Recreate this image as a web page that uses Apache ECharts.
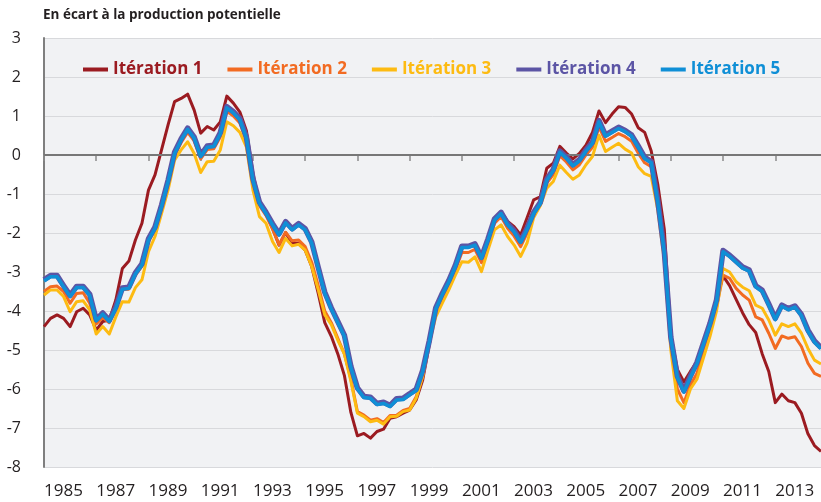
<!DOCTYPE html>
<html>
<head>
<meta charset="utf-8">
<script src="https://cdn.jsdelivr.net/npm/echarts@6/dist/echarts.min.js"></script>
<style>
    html, body { margin: 0; padding: 0; background: #fff; }
    #chart { width: 821px; height: 502px; }
</style>
</head>
<body>
<div id="chart"></div>
<script>
// trimestres 1985 T1 -> 2014 T4
const years = [1985, 1986, 1987, 1988, 1989, 1990, 1991, 1992, 1993, 1994,
    1995, 1996, 1997, 1998, 1999, 2000, 2001, 2002, 2003, 2004,
    2005, 2006, 2007, 2008, 2009, 2010, 2011, 2012, 2013, 2014];
const quarters = ['T1', 'T2', 'T3', 'T4'];

const names = ['Itération 1', 'Itération 2', 'Itération 3', 'Itération 4', 'Itération 5'];
const colors = ['#9b1b21', '#f26b22', '#fdbb12', '#5c55a5', '#0f8fd6'];

const iter1 = [-4.40,-4.19,-4.10,-4.19,-4.40,-4.02,-3.93,-4.10,-4.49,-4.27,
    -4.23,-3.72,-2.91,-2.72,-2.18,-1.75,-0.90,-0.51,0.13,0.77,
    1.37,1.45,1.56,1.15,0.56,0.73,0.64,0.85,1.51,1.33,
    1.10,0.62,-0.47,-1.24,-1.50,-1.88,-2.31,-1.99,-2.26,-2.26,
    -2.44,-2.86,-3.55,-4.30,-4.65,-5.10,-5.65,-6.60,-7.20,-7.14,
    -7.26,-7.09,-7.03,-6.75,-6.71,-6.62,-6.54,-6.28,-5.77,-4.87,
    -3.95,-3.55,-3.20,-2.82,-2.35,-2.35,-2.27,-2.60,-2.12,-1.62,
    -1.45,-1.70,-1.84,-2.05,-1.60,-1.15,-1.07,-0.34,-0.21,0.22,
    0.05,-0.10,0.04,0.25,0.58,1.13,0.83,1.05,1.24,1.22,
    1.05,0.70,0.58,0.10,-0.75,-1.90,-4.60,-5.50,-5.82,-5.55,
    -5.30,-4.80,-4.30,-3.70,-3.10,-3.35,-3.70,-4.05,-4.35,-4.55,
    -5.10,-5.55,-6.35,-6.13,-6.30,-6.35,-6.62,-7.15,-7.45,-7.60];

const iter2 = [-3.50,-3.38,-3.36,-3.50,-3.80,-3.55,-3.53,-3.80,-4.33,-4.17,
    -4.30,-3.93,-3.45,-3.44,-3.08,-2.85,-2.22,-1.92,-1.37,-0.74,
    -0.02,0.32,0.58,0.36,-0.10,0.14,0.16,0.46,1.12,1.00,
    0.82,0.36,-0.70,-1.30,-1.55,-1.90,-2.30,-1.98,-2.20,-2.18,
    -2.35,-2.75,-3.35,-4.00,-4.30,-4.70,-5.10,-5.75,-6.58,-6.67,
    -6.80,-6.76,-6.86,-6.68,-6.67,-6.55,-6.50,-6.20,-5.66,-4.80,
    -4.05,-3.65,-3.32,-2.95,-2.50,-2.50,-2.42,-2.76,-2.28,-1.75,
    -1.58,-1.88,-2.08,-2.35,-2.00,-1.55,-1.28,-0.72,-0.50,-0.02,
    -0.18,-0.38,-0.25,0.00,0.20,0.72,0.35,0.45,0.55,0.47,
    0.35,0.05,-0.20,-0.30,-1.25,-2.60,-4.85,-6.00,-6.35,-5.90,
    -5.60,-5.05,-4.50,-3.90,-3.08,-3.16,-3.42,-3.59,-3.72,-4.15,
    -4.23,-4.57,-4.96,-4.64,-4.70,-4.66,-4.91,-5.34,-5.60,-5.68];

const iter3 = [-3.59,-3.46,-3.46,-3.63,-4.02,-3.76,-3.74,-3.97,-4.59,-4.40,
    -4.59,-4.15,-3.76,-3.77,-3.40,-3.20,-2.48,-2.09,-1.50,-0.90,
    -0.13,0.13,0.34,0.04,-0.45,-0.17,-0.16,0.13,0.85,0.75,
    0.58,0.20,-0.90,-1.58,-1.75,-2.22,-2.50,-2.14,-2.33,-2.29,
    -2.44,-2.86,-3.46,-4.10,-4.35,-4.75,-5.10,-5.80,-6.62,-6.71,
    -6.84,-6.80,-6.90,-6.71,-6.70,-6.58,-6.54,-6.24,-5.68,-4.83,
    -4.15,-3.80,-3.46,-3.08,-2.74,-2.75,-2.61,-2.99,-2.44,-1.92,
    -1.79,-2.09,-2.31,-2.60,-2.25,-1.60,-1.30,-0.85,-0.68,-0.26,
    -0.45,-0.62,-0.51,-0.25,-0.04,0.51,0.09,0.20,0.30,0.15,
    0.05,-0.30,-0.48,-0.55,-1.40,-2.70,-5.00,-6.30,-6.50,-6.00,
    -5.75,-5.20,-4.65,-4.00,-2.91,-3.00,-3.25,-3.39,-3.48,-3.85,
    -3.93,-4.23,-4.62,-4.33,-4.40,-4.33,-4.57,-4.96,-5.26,-5.36];

const iter4 = [-3.20,-3.09,-3.09,-3.35,-3.60,-3.37,-3.37,-3.57,-4.22,-4.05,
    -4.24,-3.90,-3.41,-3.39,-3.02,-2.79,-2.15,-1.85,-1.29,-0.65,
    0.07,0.41,0.69,0.46,-0.01,0.23,0.25,0.57,1.24,1.11,
    0.93,0.46,-0.61,-1.21,-1.47,-1.76,-2.02,-1.71,-1.89,-1.76,
    -1.89,-2.23,-2.88,-3.52,-3.92,-4.27,-4.62,-5.42,-5.97,-6.19,
    -6.21,-6.37,-6.34,-6.42,-6.25,-6.24,-6.12,-6.01,-5.52,-4.77,
    -3.92,-3.55,-3.22,-2.83,-2.34,-2.34,-2.28,-2.62,-2.15,-1.64,
    -1.47,-1.76,-1.94,-2.21,-1.87,-1.47,-1.22,-0.62,-0.37,0.10,
    -0.05,-0.25,-0.12,0.13,0.33,0.88,0.51,0.61,0.71,0.63,
    0.51,0.23,-0.06,-0.17,-1.17,-2.47,-4.67,-5.67,-6.05,-5.67,
    -5.32,-4.82,-4.32,-3.72,-2.45,-2.57,-2.72,-2.87,-2.95,-3.35,
    -3.47,-3.82,-4.19,-3.85,-3.94,-3.87,-4.09,-4.49,-4.77,-4.94];

const iter5 = [-3.23,-3.12,-3.12,-3.38,-3.63,-3.40,-3.40,-3.60,-4.25,-4.08,
    -4.27,-3.93,-3.44,-3.42,-3.05,-2.82,-2.18,-1.88,-1.32,-0.68,
    0.04,0.38,0.66,0.43,-0.04,0.20,0.22,0.54,1.21,1.08,
    0.90,0.43,-0.64,-1.24,-1.50,-1.79,-2.05,-1.74,-1.92,-1.79,
    -1.92,-2.26,-2.91,-3.55,-3.95,-4.30,-4.65,-5.45,-6.00,-6.22,
    -6.24,-6.40,-6.37,-6.45,-6.28,-6.27,-6.15,-6.04,-5.55,-4.80,
    -3.95,-3.58,-3.25,-2.86,-2.37,-2.37,-2.31,-2.65,-2.18,-1.67,
    -1.50,-1.79,-1.97,-2.24,-1.90,-1.50,-1.25,-0.65,-0.40,0.07,
    -0.08,-0.28,-0.15,0.10,0.30,0.85,0.48,0.58,0.68,0.60,
    0.48,0.20,-0.09,-0.20,-1.20,-2.50,-4.70,-5.70,-6.08,-5.70,
    -5.35,-4.85,-4.35,-3.75,-2.48,-2.60,-2.75,-2.90,-2.98,-3.38,
    -3.50,-3.85,-4.22,-3.88,-3.97,-3.90,-4.12,-4.52,-4.80,-4.97];

const seriesData = [iter1, iter2, iter3, iter4, iter5];
const lineWidths = [3, 3, 3, 5.5, 3.5];

const categories = [];
years.forEach(y => {
    quarters.forEach(q => categories.push(y + ' ' + q));
});

const font = '"Open Sans", "DejaVu Sans", sans-serif';
const textColor = '#231f20';

const series = seriesData.map((data, k) => ({
    name: names[k],
    type: 'line',
    data: data,
    symbol: 'none',
    color: colors[k],
    lineStyle: {
        color: colors[k],
        width: lineWidths[k],
        join: 'round'
    },
    z: 3 + k
}));

// ligne du zéro
series.unshift({
    name: 'zero',
    type: 'line',
    data: [],
    z: 2,
    markLine: {
        silent: true,
        symbol: 'none',
        label: { show: false },
        lineStyle: {
            color: '#777777',
            width: 2,
            type: 'solid'
        },
        data: [{ yAxis: 0 }]
    }
});

const option = {
    animation: false,
    backgroundColor: '#ffffff',
    title: {
        text: 'En écart à la production potentielle',
        left: 38,
        top: 3,
        textStyle: {
            fontFamily: font,
            fontSize: 13.5,
            fontWeight: 'bold',
            color: textColor
        }
    },
    legend: {
        left: 78,
        top: 56,
        icon: 'rect',
        itemWidth: 25,
        itemHeight: 4,
        itemGap: 25,
        textStyle: {
            fontFamily: font,
            fontSize: 17,
            fontWeight: 'bold'
        },
        data: names.map((n, k) => ({
            name: n,
            textStyle: { color: colors[k] }
        }))
    },
    grid: {
        left: 44,
        right: 0,
        top: 38,
        bottom: 35,
        show: true,
        backgroundColor: '#f1f2f4',
        borderWidth: 0
    },
    xAxis: {
        type: 'category',
        boundaryGap: false,
        data: categories,
        axisLine: { show: false },
        axisTick: {
            show: true,
            interval: 7,
            length: 6,
            lineStyle: { color: '#8a8a8a', width: 1.5 }
        },
        axisLabel: {
            interval: 7,
            align: 'left',
            margin: 16,
            fontFamily: font,
            fontSize: 17,
            color: textColor,
            formatter: v => v.slice(0, 4)
        },
        splitLine: { show: false }
    },
    yAxis: {
        type: 'value',
        min: -8,
        max: 3,
        interval: 1,
        axisLine: {
            show: true,
            lineStyle: { color: '#7f7f7f', width: 2 }
        },
        axisTick: { show: false },
        axisLabel: {
            margin: 23,
            fontFamily: font,
            fontSize: 16,
            color: textColor
        },
        splitLine: {
            show: true,
            lineStyle: { color: '#d8d9dc', width: 1 }
        }
    },
    series: series
};

const chart = echarts.init(document.getElementById('chart'));
chart.setOption(option);
window.addEventListener('resize', () => {
    chart.resize();
});
</script>
</body>
</html>
